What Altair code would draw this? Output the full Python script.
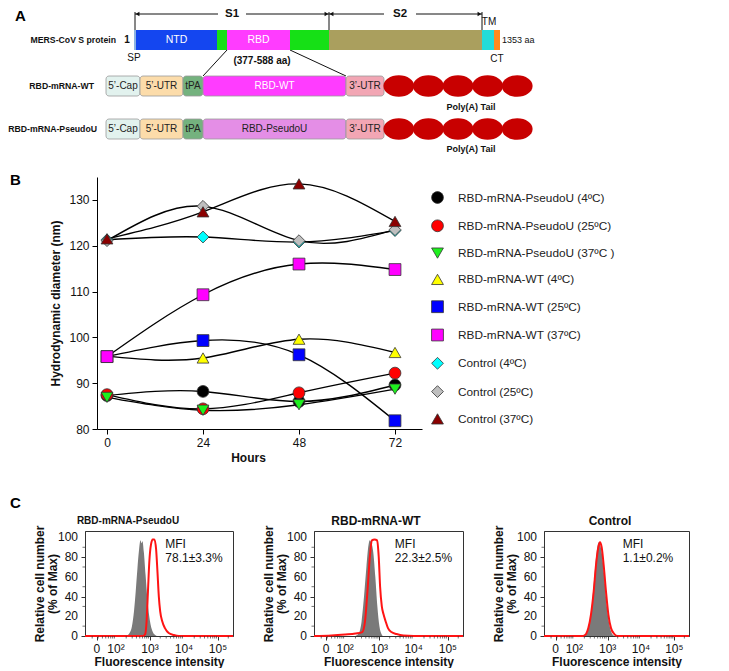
import math
import altair as alt
import pandas as pd

SANS = "'Liberation Sans', Arial, sans-serif"

# ======================= Panel A : schematic (schematic units) =======================
A_X0, A_W, A_H = 75, 450, 146
domain_start = [124, 126, 207, 217, 280, 319, 472, 484]
domain_end = [126, 207, 217, 280, 319, 472, 484, 490]
domain_colors = ["#8db3e2", "#1446f0", "#16e016", "#ff3cff", "#16e016", "#aa9f5e", "#22dcd8", "#ff8a1c"]
domain_text = ["", "NTD", "", "RBD", "", "", "", ""]
protein_top, protein_bottom = 21, 41

part_start = [96, 130, 173, 193, 336]
part_end = [130, 173, 193, 336, 374]
wt_fills = ["#e2f2ee", "#fcdcaa", "#74b27e", "#ff3cff", "#f2a6b4"]
pu_fills = ["#e2f2ee", "#fcdcaa", "#74b27e", "#e48ee6", "#f2a6b4"]
wt_texts = ["5’-Cap", "5’-UTR", "tPA", "RBD-WT", "3’-UTR"]
pu_texts = ["5’-Cap", "5’-UTR", "tPA", "RBD-PseudoU", "3’-UTR"]
wt_text_colors = ["#222222", "#222222", "#222222", "#ffffff", "#222222"]
pu_text_colors = ["#222222", "#222222", "#222222", "#222222", "#222222"]
construct_names = ["RBD-mRNA-WT", "RBD-mRNA-PseudoU"]
row_top = [67, 110]
row_bottom = [87, 130]
polyA_count = 5
polyA_start, polyA_end = 374, 522
polyA_label_y = [98, 140]

s_names = ["S1", "S2"]
s_start = [125, 319]
s_end = [319, 472]
s_label_x = [222, 390]
s_half_gap = [14, 16]
bracket_y = 5

# ======================= Panel B data =======================
hours = [0, 24, 48, 72]
series_names = [
    "RBD-mRNA-PseudoU (4ºC)", "RBD-mRNA-PseudoU (25ºC)", "RBD-mRNA-PseudoU (37ºC )",
    "RBD-mRNA-WT (4ºC)", "RBD-mRNA-WT (25ºC)", "RBD-mRNA-WT (37ºC)",
    "Control (4ºC)", "Control (25ºC)", "Control (37ºC)",
]
pu_4 = [87.3, 88.2, 86.0, 89.6]
pu_25 = [87.5, 84.4, 87.9, 92.2]
pu_37 = [86.9, 84.1, 85.3, 88.7]
wt_4 = [95.9, 95.5, 99.6, 96.7]
wt_25 = [95.8, 99.3, 96.2, 81.8]
wt_37 = [95.8, 109.3, 116.0, 114.8]
ctl_4 = [121.3, 121.9, 120.8, 123.3]
ctl_25 = [121.1, 128.6, 121.1, 123.5]
ctl_37 = [121.5, 127.4, 133.5, 125.3]
series_values = [pu_4, pu_25, pu_37, wt_4, wt_25, wt_37, ctl_4, ctl_25, ctl_37]
series_colors = ["#000000", "#ff0000", "#1ef01e", "#ffff00", "#0000ff", "#ff00ff", "#00ffff", "#bfbfbf", "#8b0000"]
series_shapes = ["circle", "circle", "triangle-down", "triangle-up", "square", "square", "diamond", "diamond", "triangle-up"]
y_ticks_B = [80, 90, 100, 110, 120, 130]

# ======================= Panel C data (biexponential axis position u) =======================
flow_titles = ["RBD-mRNA-PseudoU", "RBD-mRNA-WT", "Control"]
flow_mfi = ["78.1±3.3%", "22.3±2.5%", "1.1±0.2%"]
tick_positions = [1.44, 2, 3, 4, 5]
tick_labels = ["0", "10²", "10³", "10⁴", "10⁵"]
pct_ticks = [0, 20, 40, 60, 80, 100]
pct_minor = [10, 30, 50, 70, 90]

pseudo_gray_u = [2.30, 2.40, 2.47, 2.53, 2.58, 2.63, 2.68, 2.72, 2.75, 2.78, 2.82, 2.87, 2.93, 3.00, 3.07, 3.15, 3.20]
pseudo_gray_p = [0, 3, 10, 25, 45, 68, 88, 97, 94, 96, 85, 62, 35, 15, 5, 1, 0]
pseudo_red_u = [1.09, 2.80, 2.86, 2.90, 2.94, 2.98, 3.03, 3.08, 3.13, 3.18, 3.22, 3.26, 3.30, 3.36, 3.44, 3.55, 3.70, 3.85, 5.44]
pseudo_red_p = [0, 0, 2, 15, 45, 75, 93, 98, 98, 88, 65, 40, 25, 15, 8, 3, 1, 0, 0]

wt_gray_u = [2.30, 2.40, 2.48, 2.55, 2.62, 2.68, 2.72, 2.76, 2.82, 2.88, 2.94, 3.00, 3.06, 3.10]
wt_gray_p = [0, 3, 15, 40, 70, 92, 97, 95, 85, 60, 30, 10, 2, 0]
wt_red_u = [1.09, 1.60, 2.00, 2.30, 2.50, 2.58, 2.65, 2.72, 2.78, 2.86, 2.93, 2.98, 3.02, 3.07, 3.12, 3.18, 3.25, 3.35, 3.50, 3.70, 4.00, 5.44]
wt_red_p = [0, 0.5, 1.5, 2.5, 4, 15, 45, 80, 97, 98, 97, 80, 50, 30, 22, 15, 8, 4, 2, 0.5, 0, 0]

ctl_gray_u = [2.30, 2.38, 2.45, 2.53, 2.60, 2.67, 2.73, 2.77, 2.82, 2.90, 2.97, 3.05, 3.12, 3.20]
ctl_gray_p = [0, 3, 12, 33, 60, 85, 95, 93, 85, 60, 32, 12, 3, 0]
ctl_red_u = [1.09, 2.25, 2.35, 2.42, 2.50, 2.58, 2.65, 2.72, 2.77, 2.82, 2.88, 2.95, 3.02, 3.10, 3.20, 3.30, 5.44]
ctl_red_p = [0, 0, 2, 8, 22, 45, 72, 90, 95, 90, 72, 45, 22, 8, 2, 0, 0]

# ======================= Build Panel A =======================
def AX(f):
    return alt.X(f, type="quantitative", scale=alt.Scale(domain=[A_X0, A_X0 + A_W], nice=False, zero=False), axis=None)


def AY(f):
    return alt.Y(f, type="quantitative", scale=alt.Scale(domain=[0, A_H], nice=False, zero=False, reverse=True), axis=None)


def text_layer(df, size, bold=False, align="center", color="#111", baseline="middle"):
    return alt.Chart(df).mark_text(align=align, baseline=baseline, fontSize=size,
                                   fontWeight="bold" if bold else "normal", font=SANS, color=color).encode(
        x=AX("x"), y=AY("y"), text="t:N")


prot_df = pd.DataFrame({"x": domain_start, "x2": domain_end, "fill": domain_colors,
                        "y": protein_top, "y2": protein_bottom})
prot = alt.Chart(prot_df).mark_rect().encode(x=AX("x"), x2="x2", y=AY("y"), y2="y2",
                                              color=alt.Color("fill:N", scale=None, legend=None))
prot_txt_df = pd.DataFrame({"x": [(a + b) / 2 for a, b in zip(domain_start, domain_end)],
                            "y": (protein_top + protein_bottom) / 2, "t": domain_text})
prot_txt = text_layer(prot_txt_df, 10.5, color="white")

rows = []
for r, (fills, texts, tcols) in enumerate([(wt_fills, wt_texts, wt_text_colors), (pu_fills, pu_texts, pu_text_colors)]):
    for a, b, f, t, c in zip(part_start, part_end, fills, texts, tcols):
        rows.append({"x": a, "x2": b, "y": row_top[r], "y2": row_bottom[r], "fill": f, "t": t, "c": c,
                     "xm": (a + b) / 2, "ym": (row_top[r] + row_bottom[r]) / 2})
parts_df = pd.DataFrame(rows)
parts = alt.Chart(parts_df).mark_rect(cornerRadius=3, stroke="#9a9a9a", strokeWidth=0.8).encode(
    x=AX("x"), x2="x2", y=AY("y"), y2="y2", color=alt.Color("fill:N", scale=None, legend=None))
parts_txt = alt.Chart(parts_df).mark_text(fontSize=10, font=SANS).encode(
    x=AX("xm"), y=AY("ym"), text="t:N", color=alt.Color("c:N", scale=None, legend=None))

ell_w = (polyA_end - polyA_start) / polyA_count
ell_rows = []
for r in range(2):
    for i in range(polyA_count):
        ell_rows.append({"x": polyA_start + (i + 0.5) * ell_w, "y": (row_top[r] + row_bottom[r]) / 2})
ell = alt.Chart(pd.DataFrame(ell_rows)).mark_point(
    shape="M-1,0A1,0.7,0,1,1,1,0A1,0.7,0,1,1,-1,0Z", filled=True, color="#c80000", opacity=1,
    size=(ell_w + 1.2) ** 2).encode(x=AX("x"), y=AY("y"))

seg_rows, left_arrows, right_arrows = [], [], []
for a, b, lx, g in zip(s_start, s_end, s_label_x, s_half_gap):
    seg_rows.append({"x": a, "x2": lx - g, "y": bracket_y})
    seg_rows.append({"x": lx + g, "x2": b, "y": bracket_y})
    left_arrows.append({"x": a + 2.5, "y": bracket_y})
    right_arrows.append({"x": b - 2.5, "y": bracket_y})
brk = alt.Chart(pd.DataFrame(seg_rows)).mark_rule(color="#111", strokeWidth=1).encode(x=AX("x"), x2="x2", y=AY("y"))
arr_l = alt.Chart(pd.DataFrame(left_arrows)).mark_point(filled=True, color="#111", opacity=1, size=20,
                                                        shape="triangle-left").encode(x=AX("x"), y=AY("y"))
arr_r = alt.Chart(pd.DataFrame(right_arrows)).mark_point(filled=True, color="#111", opacity=1, size=20,
                                                         shape="triangle-right").encode(x=AX("x"), y=AY("y"))
vt_df = pd.DataFrame({"x": sorted(set(s_start + s_end)), "y": bracket_y - 2, "y2": protein_top})
vt = alt.Chart(vt_df).mark_rule(color="#111", strokeWidth=1).encode(x=AX("x"), y=AY("y"), y2="y2")
conn_df = pd.DataFrame({"x": [domain_start[3], domain_end[3]], "y": protein_bottom,
                        "x2": [part_start[3], part_end[3]], "y2": row_top[0]})
conn = alt.Chart(conn_df).mark_rule(color="#111", strokeWidth=1).encode(x=AX("x"), y=AY("y"), x2="x2", y2="y2")

lab_rows = text_layer(pd.DataFrame({"x": [106, 84, 87], "y": [31, 77, 120],
                                    "t": ["MERS-CoV S protein"] + construct_names}), 8.7, bold=True, align="right")
lab_rbd = text_layer(pd.DataFrame({"x": [117, 252], "y": [31, 52], "t": ["1", "(377-588 aa)"]}), 10, bold=True)
lab_s = text_layer(pd.DataFrame({"x": s_label_x, "y": [bracket_y, bracket_y], "t": s_names}), 11.5, bold=True)
lab_poly = text_layer(pd.DataFrame({"x": [461, 461], "y": polyA_label_y, "t": ["Poly(A) Tail", "Poly(A) Tail"]}),
                      9, bold=True)
lab_small = text_layer(pd.DataFrame({"x": [124, 479, 487], "y": [49, 13, 50], "t": ["SP", "TM", "CT"]}), 10)
lab_aa = text_layer(pd.DataFrame({"x": [492], "y": [31], "t": ["1353 aa"]}), 9, align="left")
letterA = text_layer(pd.DataFrame({"x": [5], "y": [7], "t": ["A"]}), 15, bold=True, align="left", color="#000")

rowA = alt.layer(brk, vt, arr_l, arr_r, conn, prot, prot_txt, parts, parts_txt, ell,
                 lab_rows, lab_rbd, lab_s, lab_poly, lab_small, lab_aa, letterA
                 ).properties(width=A_W, height=A_H)

# ======================= Build Panel B =======================
B_W, B_H, B_IN = 337, 252, 12
b_rows = []
for s, vals in zip(series_names, series_values):
    for h, v in zip(hours, vals):
        b_rows.append({"series": s, "hours": h, "d": v})
b_df = pd.DataFrame(b_rows)
xB = alt.Scale(domain=[-2.5, 78.75], nice=False, zero=False, range=[B_IN, B_W])
yB = alt.Scale(domain=[80, 135], nice=False, zero=False)
axB = alt.Axis(values=hours, grid=False, domainColor="#000", tickColor="#000", tickSize=5,
               labelFont=SANS, labelFontSize=12, labelColor="#111", labelPadding=3,
               title="Hours", titleFont=SANS, titleFontSize=12, titleFontWeight="bold", titleColor="#111",
               titlePadding=4, titleX=163, titleAlign="center")
ayB = alt.Axis(values=y_ticks_B, grid=False, domainColor="#000", tickColor="#000", tickSize=5, offset=-B_IN,
               labelFont=SANS, labelFontSize=12, labelColor="#111", labelPadding=3,
               title="Hydrodynamic diameter (nm)", titleFont=SANS, titleFontSize=12, titleFontWeight="bold",
               titleColor="#111", titlePadding=6)
legB = alt.Legend(title=None, orient="none", legendX=346, legendY=14, symbolSize=140, symbolStrokeColor="#333",
                  symbolStrokeWidth=0.8, labelFont=SANS, labelFontSize=11.8, labelColor="#222", rowPadding=11.3,
                  labelOffset=14, labelLimit=400)
linesB = alt.Chart(b_df).mark_line(interpolate="natural", color="#000", strokeWidth=1.4).encode(
    x=alt.X("hours:Q", scale=xB, axis=axB), y=alt.Y("d:Q", scale=yB, axis=ayB), detail="series:N")
pointsB = alt.Chart(b_df).mark_point(filled=True, opacity=1, size=140, stroke="#333", strokeWidth=0.8).encode(
    x=alt.X("hours:Q", scale=xB), y=alt.Y("d:Q", scale=yB),
    color=alt.Color("series:N", scale=alt.Scale(domain=series_names, range=series_colors), legend=legB),
    shape=alt.Shape("series:N", scale=alt.Scale(domain=series_names, range=series_shapes), legend=legB))
letterB = alt.Chart(pd.DataFrame({"t": ["B"]})).mark_text(align="left", baseline="top", fontSize=15,
                                                          fontWeight="bold", font=SANS, color="#000").encode(
    x=alt.value(-75), y=alt.value(-4), text="t:N")
rowB = alt.layer(linesB, pointsB, letterB).properties(width=B_W, height=B_H)

# ======================= Build Panel C =======================
U_MIN, U_MAX = 1.09, 5.44
minor_u = [round(d + math.log10(k), 4) for d in range(1, 6) for k in range(2, 10)
           if U_MIN < d + math.log10(k) < U_MAX]


def flow_panel(gray_u, gray_p, red_u, red_p, title, title_x, title_size, mfi, width, first):
    H = 105
    xs = alt.Scale(domain=[U_MIN, U_MAX], nice=False, zero=False)
    ys = alt.Scale(domain=[0, 106.5], nice=False, zero=False)
    xax = alt.Axis(values=tick_positions, labels=False, grid=False, domainColor="#333", tickColor="#333",
                   tickSize=4, title="Fluorescence intensity", titleFont=SANS, titleFontSize=12,
                   titleFontWeight="bold", titleColor="#111", titlePadding=16)
    yax = alt.Axis(values=pct_ticks, labels=False, grid=False, domainColor="#333", tickColor="#333", tickSize=4,
                   title=["Relative cell number", "(% of Max)"], titleFont=SANS, titleFontSize=12,
                   titleFontWeight="bold", titleColor="#111", titlePadding=21, titleLineHeight=13)
    gray = alt.Chart(pd.DataFrame({"u": gray_u, "p": gray_p})).mark_area(
        color="#7a7a7a", interpolate="monotone", opacity=1).encode(
        x=alt.X("u:Q", scale=xs, axis=xax), y=alt.Y("p:Q", scale=ys, axis=yax))
    red = alt.Chart(pd.DataFrame({"u": red_u, "p": red_p})).mark_line(
        color="#ff1414", strokeWidth=2, interpolate="monotone").encode(
        x=alt.X("u:Q", scale=xs), y=alt.Y("p:Q", scale=ys))
    xl = alt.Chart(pd.DataFrame({"u": tick_positions, "t": tick_labels})).mark_text(
        align="center", baseline="middle", fontSize=12, font=SANS, color="#111").encode(
        x=alt.X("u:Q", scale=xs), y=alt.value(H + 13), text="t:N")
    yl = alt.Chart(pd.DataFrame({"p": pct_ticks, "t": [str(v) for v in pct_ticks]})).mark_text(
        align="right", baseline="middle", fontSize=12, font=SANS, color="#111").encode(
        x=alt.value(-7), y=alt.Y("p:Q", scale=ys), text="t:N")
    mfi_df = pd.DataFrame({"u": [3.45, 3.45], "p": [93.5, 79], "t": ["MFI", mfi]})
    mfi_txt = alt.Chart(mfi_df).mark_text(align="left", baseline="middle", fontSize=12, font=SANS,
                                          color="#111").encode(
        x=alt.X("u:Q", scale=xs), y=alt.Y("p:Q", scale=ys), text="t:N")
    minor = alt.Chart(pd.DataFrame({"u": minor_u})).mark_rule(color="#333", strokeWidth=0.7).encode(
        x=alt.X("u:Q", scale=xs), y=alt.value(H), y2=alt.value(H + 2.5))
    minor_y = alt.Chart(pd.DataFrame({"p": pct_minor})).mark_rule(color="#333", strokeWidth=0.7).encode(
        y=alt.Y("p:Q", scale=ys), x=alt.value(0), x2=alt.value(-2.5))
    ttl = alt.Chart(pd.DataFrame({"t": [title]})).mark_text(
        align="center", baseline="middle", fontSize=title_size, fontWeight="bold", font=SANS, color="#111").encode(
        x=alt.value(title_x), y=alt.value(-10), text="t:N")
    layers = [gray, red, minor, minor_y, xl, yl, mfi_txt, ttl]
    if first:
        letterC = alt.Chart(pd.DataFrame({"t": ["C"]})).mark_text(
            align="left", baseline="top", fontSize=15, fontWeight="bold", font=SANS, color="#000").encode(
            x=alt.value(-75), y=alt.value(-35), text="t:N")
        spacer = alt.Chart(pd.DataFrame({"t": ["C"]})).mark_text(
            align="left", baseline="top", fontSize=15, opacity=0).encode(
            x=alt.value(-75), y=alt.value(-49), text="t:N")
        layers += [letterC, spacer]
    return alt.layer(*layers).properties(width=width, height=H,
                                         view=alt.ViewBackground(stroke="#333", strokeWidth=1))


c1 = flow_panel(pseudo_gray_u, pseudo_gray_p, pseudo_red_u, pseudo_red_p, flow_titles[0], 43, 10, flow_mfi[0], 148, True)
c2 = flow_panel(wt_gray_u, wt_gray_p, wt_red_u, wt_red_p, flow_titles[1], 62, 12, flow_mfi[1], 149, False)
c3 = flow_panel(ctl_gray_u, ctl_gray_p, ctl_red_u, ctl_red_p, flow_titles[2], 66, 12, flow_mfi[2], 145, False)
rowC = alt.hconcat(c1, c2, c3, spacing=23)

chart = alt.concat(rowA, rowB, rowC, columns=1, spacing=18).properties(
    padding=0).resolve_legend(color="independent", shape="independent").configure_view(strokeWidth=0)
chart.save("out.html", embed_options={"renderer": "svg", "actions": False})
